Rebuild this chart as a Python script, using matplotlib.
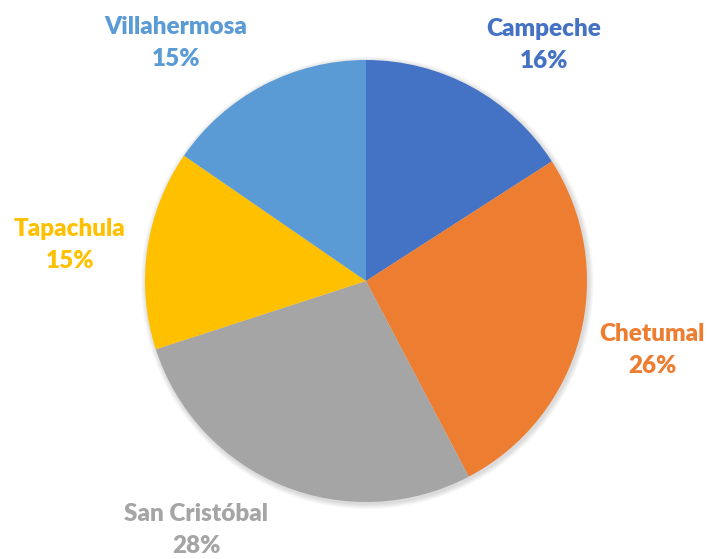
import matplotlib.pyplot as plt
from matplotlib.patches import Circle

# city shares
cities = ['Campeche', 'Chetumal', 'San Cristóbal', 'Tapachula', 'Villahermosa']
shares = [15.9, 26.4, 27.7, 14.6, 15.4]
colors = ['#4472C4', '#ED7D31', '#A5A5A5', '#FFC000', '#5B9BD5']

# label centres in pixels (x, y from top), layout only
label_pos = [(544, 45), (652, 350), (196, 530), (70, 245), (176, 43)]

W, H = 707, 559
cx, cy, R = 366, 281, 221

fig = plt.figure(figsize=(W / 100, H / 100), dpi=100)
ax = fig.add_axes([0, 0, 1, 1])

# soft shadow under the pie
for i in range(6):
    ax.add_patch(Circle((0.006, -0.008), 1 + 0.004 * (i + 1), color='k',
                        alpha=0.025, lw=0, zorder=0))

wedges, _ = ax.pie(shares, colors=colors, startangle=90, counterclock=False,
                   radius=1, center=(0, 0), frame=True,
                   wedgeprops=dict(linewidth=0))
for w in wedges:
    w.set_zorder(2)
ax.set_xlim(-cx / R, (W - cx) / R)
ax.set_ylim(-(H - cy) / R, cy / R)
ax.set_aspect('equal')
ax.axis('off')

for name, val, col, (px, py) in zip(cities, shares, colors, label_pos):
    fig.text(px / W, 1 - py / H, f'{name}\n{round(val)}%', color=col,
             ha='center', va='center', fontsize=17.5, fontweight='heavy',
             family='Lato', linespacing=1.55)

fig.savefig('out.png', dpi=100)
